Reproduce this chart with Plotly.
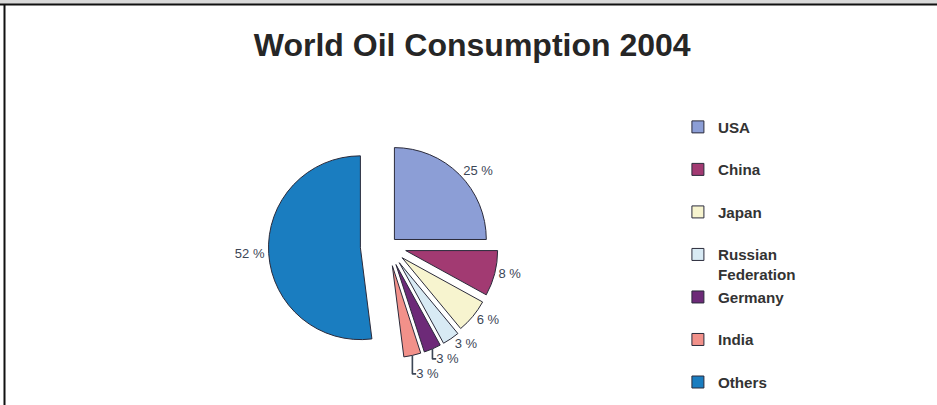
import plotly.graph_objects as go

# ---- data ----
countries = ["USA", "China", "Japan", "Russian<br>Federation", "Germany", "India", "Others"]
shares = [25, 8, 6, 3, 3, 3, 52]
slice_colors = ["#8c9ed6", "#a23a72", "#f7f4cf", "#d8eaf4", "#6d2a78", "#f2918a", "#1a7dc0"]
explode = [0.1, 0.2, 0.2, 0.22, 0.22, 0.22, 0.3]
title_text = "World Oil Consumption 2004"

W, H = 937, 405

# legend entries take two text lines each (like the original chart)
last = len(countries) - 1
legend_labels = [c if ("<br>" in c or i == last) else c + "<br> " for i, c in enumerate(countries)]

fig = go.Figure()
fig.add_trace(go.Pie(
    labels=legend_labels,
    values=shares,
    sort=False,
    direction="clockwise",
    rotation=0,
    pull=explode,
    marker=dict(colors=slice_colors, line=dict(color="#2b2b3b", width=1)),
    texttemplate="%{value} %",
    textposition="outside",
    outsidetextfont=dict(family="Liberation Sans, Arial, sans-serif", size=13, color="#3c4656"),
    domain=dict(x=[0.2865, 0.5415], y=[0.0973, 0.6879]),
    hoverinfo="label+percent",
))

fig.update_layout(
    width=W, height=H,
    margin=dict(l=0, r=0, t=0, b=0, autoexpand=False),
    paper_bgcolor="white",
    plot_bgcolor="white",
    title=dict(
        text="<b>" + title_text + "</b>",
        font=dict(family="Liberation Sans, Arial, sans-serif", size=32, color="#262626"),
        x=0.504, xanchor="center", xref="paper",
        y=1 - 45 / H, yanchor="middle", yref="container",
    ),
    legend=dict(
        x=0.7235, xanchor="left",
        y=1 - 110.5 / H, yanchor="top",
        valign="top",
        font=dict(family="Liberation Sans, Arial, sans-serif", size=15.2, color="#333333", weight="bold"),
        bgcolor="rgba(0,0,0,0)",
        itemclick=False,
    ),
    shapes=[
        dict(type="rect", xref="paper", yref="paper", x0=0, x1=1, y0=1 - 4 / H, y1=1,
             fillcolor="#d9d9d9", line=dict(width=0)),
        dict(type="line", xref="paper", yref="paper", x0=0, x1=1, y0=1 - 4.5 / H, y1=1 - 4.5 / H,
             line=dict(color="#111111", width=2)),
        dict(type="line", xref="paper", yref="paper", x0=4.5 / W, x1=4.5 / W, y0=0, y1=1 - 4.5 / H,
             line=dict(color="#111111", width=2)),
    ],
)

fig.write_html("out.html", config={"displayModeBar": False},
               post_script="document.body.style.margin='0';")
